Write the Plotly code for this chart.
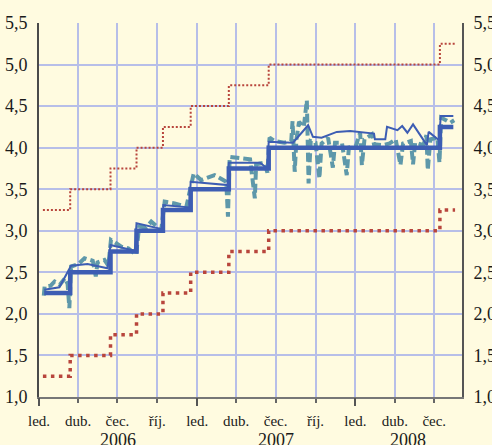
import plotly.graph_objects as go

# ---- data ----
step_dates = ["2006-01-13", "2006-03-14", "2006-06-15", "2006-08-14", "2006-10-14",
              "2006-12-17", "2007-03-15", "2007-06-15", "2008-07-14", "2008-08-14"]
mro_values = [2.25, 2.50, 2.75, 3.00, 3.25, 3.50, 3.75, 4.00, 4.25, 4.25]

corridor_dates = ["2006-01-10", "2006-03-14", "2006-06-15", "2006-08-14", "2006-10-14",
                  "2006-12-17", "2007-03-15", "2007-06-15", "2008-07-14", "2008-08-18"]
marginal_values = [3.25, 3.50, 3.75, 4.00, 4.25, 4.50, 4.75, 5.00, 5.25, 5.25]
deposit_values = [1.25, 1.50, 1.75, 2.00, 2.25, 2.50, 2.75, 3.00, 3.25, 3.25]

avg_dates = ["2006-01-13", "2006-02-17", "2006-03-16", "2006-04-23", "2006-06-08",
             "2006-06-15", "2006-08-10", "2006-08-14", "2006-10-12", "2006-10-15",
             "2006-12-14", "2006-12-17", "2007-03-13", "2007-03-15", "2007-05-26",
             "2007-06-12", "2007-06-15", "2007-08-10", "2007-09-14", "2007-09-25",
             "2007-10-15", "2007-11-19", "2007-12-20", "2008-01-15", "2008-02-13",
             "2008-02-15", "2008-03-10", "2008-03-14", "2008-04-07", "2008-04-18",
             "2008-04-30", "2008-05-13", "2008-06-14", "2008-06-18", "2008-07-12",
             "2008-07-16", "2008-08-14"]
avg_values = [2.29, 2.32, 2.58, 2.60, 2.55,
              2.83, 2.76, 3.09, 3.02, 3.31,
              3.28, 3.59, 3.55, 3.82, 3.82,
              3.75, 4.07, 4.06, 4.27, 4.13,
              4.12, 4.19, 4.20, 4.19, 4.17,
              4.10, 4.10, 4.25, 4.21, 4.26,
              4.18, 4.28, 4.03, 4.19, 4.09,
              4.38, 4.38]

eonia_dates = ["2006-01-12", "2006-01-14", "2006-01-28", "2006-02-06", "2006-02-18",
               "2006-03-02", "2006-03-08", "2006-03-12", "2006-03-16", "2006-04-02",
               "2006-04-16", "2006-05-05", "2006-05-12", "2006-05-16", "2006-06-01",
               "2006-06-10", "2006-06-16", "2006-07-10", "2006-07-26", "2006-08-13",
               "2006-08-20", "2006-09-05", "2006-09-17", "2006-10-10", "2006-10-18",
               "2006-11-10", "2006-12-07", "2006-12-18", "2006-12-24", "2007-01-10",
               "2007-02-10", "2007-03-09", "2007-03-13", "2007-03-17", "2007-04-09",
               "2007-05-03", "2007-05-14", "2007-05-17", "2007-06-05", "2007-06-12",
               "2007-06-17", "2007-06-28", "2007-07-21", "2007-08-06", "2007-08-09",
               "2007-08-14", "2007-08-18", "2007-08-24", "2007-09-04", "2007-09-11",
               "2007-09-15", "2007-09-20", "2007-10-01", "2007-10-10", "2007-10-15",
               "2007-10-30", "2007-11-10", "2007-11-15", "2007-12-01", "2007-12-12",
               "2007-12-17", "2008-01-02", "2008-01-12", "2008-01-16", "2008-01-22",
               "2008-02-08", "2008-02-13", "2008-03-05", "2008-03-20", "2008-04-03",
               "2008-04-14", "2008-04-20", "2008-05-08", "2008-05-13", "2008-05-18",
               "2008-06-06", "2008-06-13", "2008-06-16", "2008-06-22", "2008-07-08",
               "2008-07-13", "2008-07-17", "2008-07-28", "2008-08-07", "2008-08-16"]
eonia_values = [2.22, 2.33, 2.34, 2.39, 2.35,
                2.43, 2.36, 2.07, 2.57, 2.60,
                2.67, 2.64, 2.45, 2.62, 2.65,
                2.58, 2.89, 2.81, 2.79, 2.71,
                3.05, 3.04, 3.11, 3.01, 3.35,
                3.33, 3.29, 3.57, 3.69, 3.61,
                3.67, 3.59, 3.17, 3.89, 3.88,
                3.86, 3.39, 3.80, 3.82, 3.70,
                4.12, 4.08, 4.06, 4.08, 4.32,
                3.71, 4.10, 4.31, 4.25, 4.57,
                3.57, 4.08, 4.06, 3.63, 4.05,
                4.12, 3.76, 4.06, 4.06, 3.67,
                4.00, 4.02, 4.18, 3.79, 4.10,
                4.16, 4.04, 4.03, 4.05, 4.10,
                3.79, 4.05, 4.08, 3.80, 4.06,
                4.03, 4.15, 3.73, 4.10, 4.12,
                3.82, 4.36, 4.33, 4.30, 4.33]

tick_dates = ["2006-01-01", "2006-04-01", "2006-07-01", "2006-10-01",
              "2007-01-01", "2007-04-01", "2007-07-01", "2007-10-01",
              "2008-01-01", "2008-04-01", "2008-07-01"]
tick_labels = ["led.", "dub.", "čec.", "říj.",
               "led.", "dub.", "čec.", "říj.",
               "led.", "dub.", "čec."]
year_tick_dates = ["2006-01-01", "2007-01-01", "2008-01-01"]
year_labels = ["2006", "2007", "2008"]
year_label_dates = ["2006-07-02", "2007-07-02", "2008-05-01"]

x_range = ["2006-01-01", "2008-09-03"]
y_range = [1.0, 5.5]

# ---- styles ----
BG = "#fffbe0"
GRID = "#b7bee8"
RED = "#b8453c"
BLUE = "#3d5db3"
TEAL = "#5e98aa"
FONT = "Liberation Serif"

fig = go.Figure()
fig.add_trace(go.Scatter(x=corridor_dates, y=marginal_values, mode="lines",
                         line=dict(color=RED, width=2, dash="2px,2px", shape="hv"),
                         hoverinfo="skip"))
fig.add_trace(go.Scatter(x=corridor_dates, y=deposit_values, mode="lines",
                         line=dict(color=RED, width=3.5, dash="3.5px,4.5px", shape="hv"),
                         hoverinfo="skip"))
fig.add_trace(go.Scatter(x=eonia_dates, y=eonia_values, mode="lines",
                         line=dict(color=TEAL, width=4, dash="9px,4px"),
                         hoverinfo="skip"))
fig.add_trace(go.Scatter(x=avg_dates, y=avg_values, mode="lines",
                         line=dict(color=BLUE, width=2),
                         hoverinfo="skip"))
fig.add_trace(go.Scatter(x=step_dates, y=mro_values, mode="lines",
                         line=dict(color=BLUE, width=4.5, shape="hv"),
                         hoverinfo="skip"))
# invisible helpers so that the secondary axes are drawn
fig.add_trace(go.Scatter(x=x_range, y=y_range, mode="markers", xaxis="x2", yaxis="y",
                         marker=dict(opacity=0), hoverinfo="skip"))
fig.add_trace(go.Scatter(x=x_range, y=y_range, mode="markers", xaxis="x", yaxis="y2",
                         marker=dict(opacity=0), hoverinfo="skip"))

for lbl, d in zip(year_labels, year_label_dates):
    fig.add_annotation(x=d, y=0, xref="x", yref="paper", text=lbl, showarrow=False,
                       yanchor="top", yshift=-31, font=dict(family=FONT, size=18, color="#1a1a1a"))

fig.update_layout(
    width=492, height=445,
    margin=dict(l=39, r=30, t=23, b=48, autoexpand=False),
    paper_bgcolor=BG, plot_bgcolor=BG,
    separators=", ",
    showlegend=False,
    font=dict(family=FONT, color="#1a1a1a"),
    xaxis=dict(type="date", range=x_range, tickmode="array", tickvals=tick_dates,
               ticktext=tick_labels, ticks="outside", ticklen=4, tickwidth=1.5,
               tickcolor="#666", showgrid=True, gridcolor=GRID, gridwidth=1.5,
               showline=True, linecolor="#777", linewidth=1.5, zeroline=False,
               automargin=False, ticklabelstandoff=5,
               tickfont=dict(family=FONT, size=15, color="#1a1a1a")),
    xaxis2=dict(type="date", range=x_range, overlaying="x", anchor="y", side="bottom",
                tickmode="array", tickvals=year_tick_dates, ticks="outside", ticklen=8,
                tickwidth=1.5, tickcolor="#555", showticklabels=False, showgrid=False,
                showline=False, zeroline=False, automargin=False),
    yaxis=dict(range=y_range, tickmode="linear", tick0=1.0, dtick=0.5, tickformat=".1f",
               showgrid=True, gridcolor=GRID, gridwidth=1.5, showline=True,
               linecolor="#4a4a4a", linewidth=2, zeroline=False, ticks="",
               ticklabelstandoff=6, automargin=False,
               tickfont=dict(family=FONT, size=18, color="#1a1a1a")),
    yaxis2=dict(range=y_range, overlaying="y", side="right", anchor="x",
                tickmode="linear", tick0=1.0, dtick=0.5, tickformat=".1f",
                showgrid=False, showline=True, linecolor="#555", linewidth=2,
                zeroline=False, ticks="", ticklabelstandoff=6, automargin=False,
                tickfont=dict(family=FONT, size=18, color="#1a1a1a")),
)

fig.write_html("out.html", config={"displayModeBar": False},
               post_script="document.body.style.margin='0px';document.body.style.overflow='hidden';")
